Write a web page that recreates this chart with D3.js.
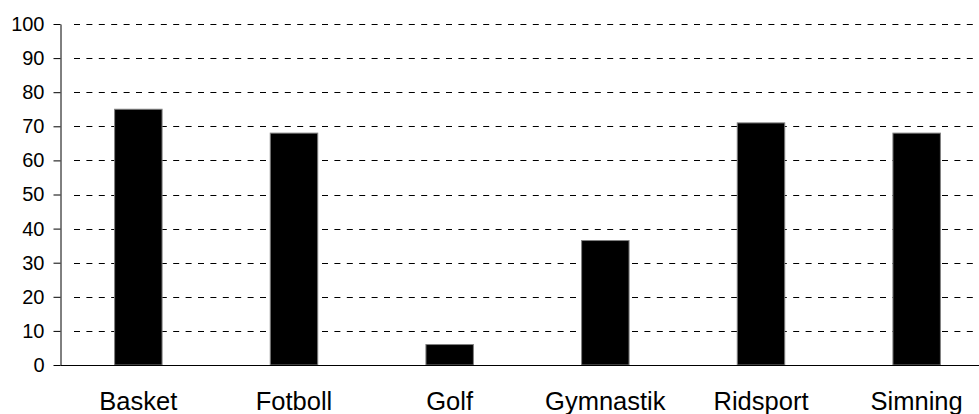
<!DOCTYPE html>
<html>
<head>
<meta charset="utf-8">
<script src="https://cdn.jsdelivr.net/npm/d3@7"></script>
<style>
  html, body { margin: 0; padding: 0; background: #fff; }
  svg { display: block; }
</style>
</head>
<body>
<svg id="chart" width="979" height="414"></svg>
<script>
const categories = ["Basket", "Fotboll", "Golf", "Gymnastik", "Ridsport", "Simning"];
const values = [75, 68, 6, 36.5, 71, 68];
const yTicks = [0, 10, 20, 30, 40, 50, 60, 70, 80, 90, 100];

(function () {
const svg = d3.select("#chart");
const W = 979;
const mLeft = 60.5, mRight = 994.5, mTop = 24, mBottom = 365;

const x = d3.scaleBand().domain(categories).range([mLeft, mRight]).padding(0);
const y = d3.scaleLinear().domain([0, 100]).range([mBottom, mTop]);

// gridlines (dashed), skipping 0
svg.append("g").selectAll("line")
  .data(yTicks.filter(d => d !== 0))
  .join("line")
  .attr("x1", 74).attr("x2", W)
  .attr("y1", d => Math.round(y(d)) + 0.5)
  .attr("y2", d => Math.round(y(d)) + 0.5)
  .attr("stroke", "#000")
  .attr("stroke-width", 1)
  .attr("stroke-dasharray", "6,6.4");

// bars
const bw = x.bandwidth() * 0.305;
svg.append("g").selectAll("rect")
  .data(categories.map((c, i) => ({ c, v: values[i] })))
  .join("rect")
  .attr("x", d => x(d.c) + x.bandwidth() / 2 - bw / 2)
  .attr("y", d => y(d.v))
  .attr("width", bw)
  .attr("height", d => y(0) - y(d.v))
  .attr("fill", "#000")
  .attr("stroke", "#808080")
  .attr("stroke-width", 1);

// y axis
const yAxis = d3.axisLeft(y).tickValues(yTicks).tickSize(7).tickPadding(9).tickSizeOuter(0);
const gy = svg.append("g").attr("transform", `translate(${mLeft},0)`).call(yAxis);
gy.select(".domain").attr("stroke", "#000");
gy.selectAll(".tick line").attr("stroke", "#000");
gy.selectAll(".tick text")
  .attr("font-family", "'Liberation Sans', Arial, sans-serif")
  .attr("font-size", "20px")
  .attr("fill", "#000");

// x axis baseline
svg.append("line")
  .attr("x1", mLeft).attr("x2", W)
  .attr("y1", mBottom + 0.5).attr("y2", mBottom + 0.5)
  .attr("stroke", "#000").attr("stroke-width", 1);

// category labels
svg.append("g").selectAll("text")
  .data(categories)
  .join("text")
  .attr("x", d => x(d) + x.bandwidth() / 2)
  .attr("y", 410)
  .attr("text-anchor", "middle")
  .attr("font-family", "'Liberation Sans', Arial, sans-serif")
  .attr("font-size", "25.5px")
  .attr("fill", "#000")
  .text(d => d);
})();
</script>
</body>
</html>
